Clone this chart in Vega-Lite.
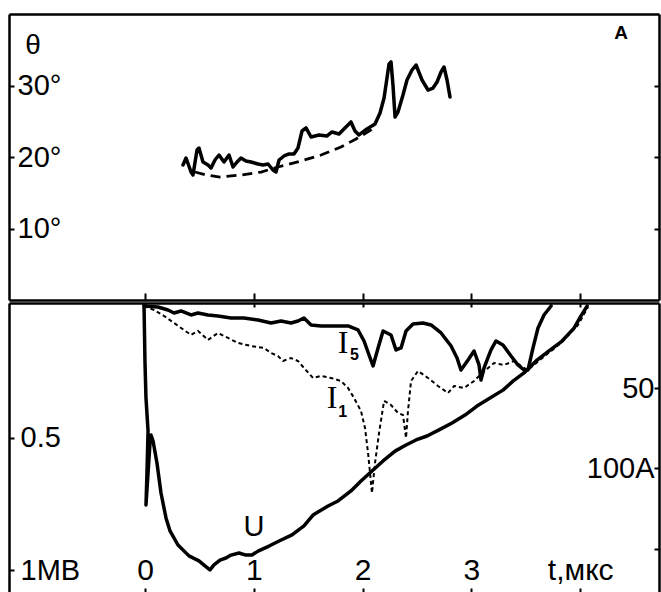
{
  "$schema": "https://vega.github.io/schema/vega-lite/v6.json",
  "padding": {"left": 8, "top": 14, "right": 3, "bottom": 0},
  "background": "white",
  "spacing": 0,
  "config": {
    "view": {"stroke": null},
    "font": "Liberation Sans",
    "axis": {"grid": false, "domainColor": "black", "domainWidth": 2.5, "tickColor": "black", "tickWidth": 2, "labelColor": "black", "labelFont": "Liberation Sans", "labelFontSize": 29, "labelFlush": false, "labelOverlap": false}
  },
  "datasets": {
    "theta": [
      {"t":0.349,"theta":18.88},{"t":0.377,"theta":19.86},{"t":0.423,"theta":17.90},{"t":0.441,"theta":17.48},{"t":0.478,"theta":20.98},{"t":0.496,"theta":21.26},{"t":0.533,"theta":19.30},{"t":0.579,"theta":18.88},{"t":0.607,"theta":18.46},{"t":0.643,"theta":19.58},{"t":0.680,"theta":20.28},{"t":0.726,"theta":19.30},{"t":0.772,"theta":20.28},{"t":0.809,"theta":18.60},{"t":0.846,"theta":19.30},{"t":0.882,"theta":19.86},{"t":0.928,"theta":19.44},{"t":0.974,"theta":19.30},{"t":1.039,"theta":19.02},{"t":1.085,"theta":18.88},{"t":1.131,"theta":19.02},{"t":1.176,"theta":18.18},{"t":1.204,"theta":17.90},{"t":1.232,"theta":19.58},{"t":1.278,"theta":20.14},{"t":1.324,"theta":20.42},{"t":1.369,"theta":20.42},{"t":1.406,"theta":21.26},{"t":1.443,"theta":23.64},{"t":1.480,"theta":24.06},{"t":1.526,"theta":22.80},{"t":1.599,"theta":23.08},{"t":1.673,"theta":22.94},{"t":1.719,"theta":23.50},{"t":1.783,"theta":23.22},{"t":1.847,"theta":24.20},{"t":1.893,"theta":24.90},{"t":1.930,"theta":23.64},{"t":1.967,"theta":23.08},{"t":2.040,"theta":23.92},{"t":2.114,"theta":24.62},{"t":2.160,"theta":26.15},{"t":2.197,"theta":28.25},{"t":2.224,"theta":31.05},{"t":2.243,"theta":33.01},{"t":2.261,"theta":33.29},{"t":2.279,"theta":30.07},{"t":2.298,"theta":25.59},{"t":2.325,"theta":26.29},{"t":2.371,"theta":28.67},{"t":2.408,"theta":30.77},{"t":2.454,"theta":32.17},{"t":2.491,"theta":32.87},{"t":2.546,"theta":30.77},{"t":2.601,"theta":29.37},{"t":2.647,"theta":29.65},{"t":2.684,"theta":30.49},{"t":2.721,"theta":31.89},{"t":2.748,"theta":32.59},{"t":2.776,"theta":30.77},{"t":2.803,"theta":28.39}
    ],
    "thetaDash": [
      {"t":0.460,"theta":17.90},{"t":0.561,"theta":17.48},{"t":0.689,"theta":17.20},{"t":0.882,"theta":17.48},{"t":1.066,"theta":17.90},{"t":1.222,"theta":18.60},{"t":1.434,"theta":19.44},{"t":1.618,"theta":20.28},{"t":1.801,"theta":21.40},{"t":1.939,"theta":22.52},{"t":2.077,"theta":23.78},{"t":2.114,"theta":24.34}
    ],
    "U": [
      {"i":1,"t":-0.009,"v":0.0},{"i":2,"t":0.0,"v":0.219},{"i":3,"t":0.009,"v":0.351},{"i":4,"t":0.028,"v":0.475},{"i":5,"t":0.018,"v":0.633},{"i":6,"t":0.009,"v":0.754},{"i":7,"t":0.028,"v":0.633},{"i":8,"t":0.046,"v":0.520},{"i":9,"t":0.055,"v":0.490},{"i":10,"t":0.074,"v":0.513},{"i":11,"t":0.110,"v":0.596},{"i":12,"t":0.147,"v":0.709},{"i":13,"t":0.193,"v":0.803},{"i":14,"t":0.230,"v":0.852},{"i":15,"t":0.303,"v":0.905},{"i":16,"t":0.404,"v":0.946},{"i":17,"t":0.496,"v":0.965},{"i":18,"t":0.551,"v":0.984},{"i":19,"t":0.597,"v":0.999},{"i":20,"t":0.634,"v":0.980},{"i":21,"t":0.689,"v":0.962},{"i":22,"t":0.744,"v":0.954},{"i":23,"t":0.790,"v":0.943},{"i":24,"t":0.864,"v":0.935},{"i":25,"t":0.928,"v":0.943},{"i":26,"t":0.983,"v":0.943},{"i":27,"t":1.039,"v":0.928},{"i":28,"t":1.140,"v":0.909},{"i":29,"t":1.232,"v":0.890},{"i":30,"t":1.351,"v":0.867},{"i":31,"t":1.461,"v":0.833},{"i":32,"t":1.544,"v":0.792},{"i":33,"t":1.682,"v":0.758},{"i":34,"t":1.774,"v":0.739},{"i":35,"t":1.893,"v":0.701},{"i":36,"t":1.985,"v":0.664},{"i":37,"t":2.086,"v":0.626},{"i":38,"t":2.188,"v":0.588},{"i":39,"t":2.298,"v":0.551},{"i":40,"t":2.399,"v":0.528},{"i":41,"t":2.491,"v":0.509},{"i":42,"t":2.592,"v":0.494},{"i":43,"t":2.702,"v":0.471},{"i":44,"t":2.822,"v":0.445},{"i":45,"t":2.941,"v":0.415},{"i":46,"t":3.051,"v":0.381},{"i":47,"t":3.171,"v":0.351},{"i":48,"t":3.290,"v":0.321},{"i":49,"t":3.382,"v":0.287},{"i":50,"t":3.483,"v":0.256},{"i":51,"t":3.594,"v":0.211},{"i":52,"t":3.713,"v":0.173},{"i":53,"t":3.833,"v":0.136},{"i":54,"t":3.943,"v":0.087},{"i":55,"t":4.007,"v":0.041},{"i":56,"t":4.063,"v":0.004}
    ],
    "I5": [
      {"t":-0.009,"I":-1.25},{"t":0.119,"I":-0.62},{"t":0.211,"I":1.25},{"t":0.267,"I":3.12},{"t":0.331,"I":1.87},{"t":0.423,"I":4.36},{"t":0.487,"I":3.12},{"t":0.579,"I":4.36},{"t":0.671,"I":4.98},{"t":0.790,"I":6.23},{"t":0.910,"I":6.23},{"t":1.039,"I":7.48},{"t":1.158,"I":9.35},{"t":1.250,"I":8.10},{"t":1.342,"I":9.35},{"t":1.406,"I":8.10},{"t":1.461,"I":6.23},{"t":1.526,"I":10.59},{"t":1.618,"I":11.21},{"t":1.710,"I":11.21},{"t":1.866,"I":11.21},{"t":1.958,"I":13.71},{"t":2.013,"I":20.56},{"t":2.059,"I":29.28},{"t":2.096,"I":36.14},{"t":2.142,"I":24.92},{"t":2.188,"I":14.33},{"t":2.261,"I":16.82},{"t":2.307,"I":26.17},{"t":2.353,"I":24.92},{"t":2.399,"I":14.33},{"t":2.463,"I":9.97},{"t":2.555,"I":9.35},{"t":2.629,"I":10.59},{"t":2.721,"I":15.58},{"t":2.813,"I":23.68},{"t":2.868,"I":31.15},{"t":2.904,"I":38.63},{"t":2.969,"I":32.40},{"t":3.024,"I":26.79},{"t":3.070,"I":35.51},{"t":3.088,"I":44.86},{"t":3.116,"I":37.38},{"t":3.180,"I":26.17},{"t":3.226,"I":20.56},{"t":3.290,"I":23.05},{"t":3.364,"I":29.91},{"t":3.428,"I":35.51},{"t":3.483,"I":38.63},{"t":3.520,"I":38.63},{"t":3.566,"I":24.92},{"t":3.612,"I":12.46},{"t":3.667,"I":4.36},{"t":3.732,"I":-1.25}
    ],
    "I1": [
      {"t":-0.009,"I":-1.25},{"t":0.083,"I":1.25},{"t":0.175,"I":4.98},{"t":0.267,"I":9.35},{"t":0.358,"I":13.71},{"t":0.423,"I":16.82},{"t":0.487,"I":14.33},{"t":0.579,"I":19.94},{"t":0.671,"I":15.58},{"t":0.763,"I":18.69},{"t":0.855,"I":21.81},{"t":0.974,"I":23.68},{"t":1.094,"I":24.92},{"t":1.158,"I":28.04},{"t":1.222,"I":29.91},{"t":1.268,"I":33.02},{"t":1.342,"I":31.15},{"t":1.406,"I":33.02},{"t":1.461,"I":37.38},{"t":1.544,"I":43.61},{"t":1.618,"I":42.37},{"t":1.710,"I":43.61},{"t":1.801,"I":45.48},{"t":1.866,"I":49.84},{"t":1.921,"I":56.07},{"t":1.985,"I":64.17},{"t":2.022,"I":74.77},{"t":2.050,"I":90.34},{"t":2.068,"I":102.80},{"t":2.086,"I":115.26},{"t":2.114,"I":96.57},{"t":2.151,"I":77.88},{"t":2.197,"I":57.94},{"t":2.261,"I":60.44},{"t":2.325,"I":65.42},{"t":2.371,"I":66.67},{"t":2.399,"I":81.00},{"t":2.417,"I":64.17},{"t":2.445,"I":45.48},{"t":2.509,"I":39.25},{"t":2.601,"I":43.61},{"t":2.693,"I":48.60},{"t":2.785,"I":52.96},{"t":2.840,"I":48.60},{"t":2.932,"I":49.84},{"t":3.024,"I":45.48},{"t":3.070,"I":42.37},{"t":3.153,"I":37.38},{"t":3.208,"I":34.27},{"t":3.300,"I":35.51},{"t":3.392,"I":33.02},{"t":3.483,"I":37.38},{"t":3.520,"I":38.63},{"t":3.640,"I":31.78},{"t":3.824,"I":21.81},{"t":3.980,"I":10.59},{"t":4.072,"I":-0.62}
    ],
    "lblI": [{"t":1.82,"v":0.143,"label":"I"},{"t":1.719,"v":0.351,"label":"I"}],
    "lblSub": [{"t":1.925,"v":0.188,"label":"5"},{"t":1.818,"v":0.405,"label":"1"}],
    "lblU": [{"t":1.002,"v":0.837,"label":"U"}],
    "lblTheta": [{"t":-1.029,"theta":35.5,"label":"θ"}],
    "lblA": [{"t":4.375,"theta":37.3,"label":"A"}]
  },
  "vconcat": [
    {
      "width": 650,
      "height": 286,
      "layer": [
        {
          "data": {"name": "theta"},
          "mark": {"type": "line", "color": "black", "strokeWidth": 3.5, "strokeJoin": "round", "strokeCap": "round"},
          "encoding": {
            "x": {"field": "t", "type": "quantitative", "title": null, "scale": {"domain": [-1.25, 4.724], "nice": false, "zero": false}, "axis": {"orient": "bottom", "values": [0, 1, 2, 3, 4], "labels": false, "tickSize": -7, "domain": true}},
            "y": {"field": "theta", "type": "quantitative", "title": null, "scale": {"domain": [0, 40], "nice": false, "zero": false}, "axis": {"orient": "left", "values": [10, 20, 30], "tickSize": -5, "labelPadding": -3, "labelAlign": "left", "labelBaseline": "middle", "labelExpr": "datum.label + '°'"}}
          }
        },
        {
          "data": {"name": "thetaDash"},
          "mark": {"type": "line", "color": "black", "strokeWidth": 2.8, "strokeDash": [10, 6]},
          "encoding": {
            "x": {"field": "t", "type": "quantitative", "title": null, "scale": {"domain": [-1.25, 4.724], "nice": false, "zero": false}, "axis": {"orient": "top", "ticks": false, "labels": false, "domain": true}},
            "y": {"field": "theta", "type": "quantitative", "title": null, "scale": {"domain": [0, 40], "nice": false, "zero": false}, "axis": {"orient": "right", "values": [10, 20, 30], "tickSize": -5, "labels": false}}
          }
        },
        {
          "data": {"name": "lblTheta"},
          "mark": {"type": "text", "font": "Liberation Sans", "fontSize": 28, "color": "black"},
          "encoding": {
            "x": {"field": "t", "type": "quantitative", "axis": null},
            "y": {"field": "theta", "type": "quantitative", "axis": null},
            "text": {"field": "label"}
          }
        },
        {
          "data": {"name": "lblA"},
          "mark": {"type": "text", "font": "Liberation Sans", "fontSize": 19, "fontWeight": "bold", "color": "black"},
          "encoding": {
            "x": {"field": "t", "type": "quantitative", "axis": null},
            "y": {"field": "theta", "type": "quantitative", "axis": null},
            "text": {"field": "label"}
          }
        }
      ],
      "resolve": {"axis": {"x": "independent", "y": "independent"}}
    },
    {
      "width": 650,
      "height": 290,
      "layer": [
        {
          "data": {"name": "U"},
          "mark": {"type": "line", "color": "black", "strokeWidth": 3.5, "strokeJoin": "round", "strokeCap": "round"},
          "encoding": {
            "x": {"field": "t", "type": "quantitative", "title": null, "scale": {"domain": [-1.25, 4.724], "nice": false, "zero": false}, "axis": {"orient": "bottom", "values": [0, 1, 2, 3, 4], "tickSize": -5, "labelPadding": -9, "labelBaseline": "alphabetic", "labelAlign": "center", "labelFontSize": 30, "domain": false, "labelExpr": "datum.value == 4 ? 't,мкс' : datum.label"}},
            "y": {"field": "v", "type": "quantitative", "title": null, "scale": {"domain": [-0.0075, 1.086], "nice": false, "zero": false, "reverse": true}, "axis": {"orient": "left", "values": [0.5, 1], "tickSize": -5, "labelPadding": -6, "labelAlign": "left", "labelBaseline": "middle", "labelExpr": "datum.value == 1 ? '1MB' : '0.5'"}},
            "order": {"field": "i", "type": "quantitative"}
          }
        },
        {
          "data": {"name": "I5"},
          "mark": {"type": "line", "color": "black", "strokeWidth": 3.5, "strokeJoin": "round", "strokeCap": "round"},
          "encoding": {
            "x": {"field": "t", "type": "quantitative", "title": null, "scale": {"domain": [-1.25, 4.724], "nice": false, "zero": false}, "axis": {"orient": "top", "values": [0, 1, 2, 3, 4], "tickSize": -4, "labels": false, "domain": true}},
            "y": {"field": "I", "type": "quantitative", "title": null, "scale": {"domain": [-3.1, 177.6], "nice": false, "zero": false, "reverse": true}, "axis": {"orient": "right", "values": [50, 100, 150], "tickSize": -5, "labelPadding": 0, "labelAlign": "right", "labelBaseline": "middle", "labelExpr": "datum.value == 100 ? '100A' : (datum.value == 50 ? '50' : '')"}}
          }
        },
        {
          "data": {"name": "I1"},
          "mark": {"type": "line", "color": "black", "strokeWidth": 2, "strokeDash": [4, 3]},
          "encoding": {
            "x": {"field": "t", "type": "quantitative", "axis": null, "scale": {"domain": [-1.25, 4.724], "nice": false, "zero": false}},
            "y": {"field": "I", "type": "quantitative", "axis": null, "scale": {"domain": [-3.1, 177.6], "nice": false, "zero": false, "reverse": true}}
          }
        },
        {
          "data": {"name": "lblI"},
          "mark": {"type": "text", "font": "Liberation Serif", "fontSize": 32, "color": "black"},
          "encoding": {
            "x": {"field": "t", "type": "quantitative", "axis": null},
            "y": {"field": "v", "type": "quantitative", "axis": null, "scale": {"domain": [-0.0075, 1.086], "nice": false, "zero": false, "reverse": true}},
            "text": {"field": "label"}
          }
        },
        {
          "data": {"name": "lblSub"},
          "mark": {"type": "text", "font": "Liberation Sans", "fontSize": 16, "fontWeight": "bold", "color": "black"},
          "encoding": {
            "x": {"field": "t", "type": "quantitative", "axis": null},
            "y": {"field": "v", "type": "quantitative", "axis": null, "scale": {"domain": [-0.0075, 1.086], "nice": false, "zero": false, "reverse": true}},
            "text": {"field": "label"}
          }
        },
        {
          "data": {"name": "lblU"},
          "mark": {"type": "text", "font": "Liberation Sans", "fontSize": 29, "color": "black"},
          "encoding": {
            "x": {"field": "t", "type": "quantitative", "axis": null},
            "y": {"field": "v", "type": "quantitative", "axis": null, "scale": {"domain": [-0.0075, 1.086], "nice": false, "zero": false, "reverse": true}},
            "text": {"field": "label"}
          }
        }
      ],
      "resolve": {"scale": {"y": "independent"}, "axis": {"x": "independent", "y": "independent"}}
    }
  ]
}
